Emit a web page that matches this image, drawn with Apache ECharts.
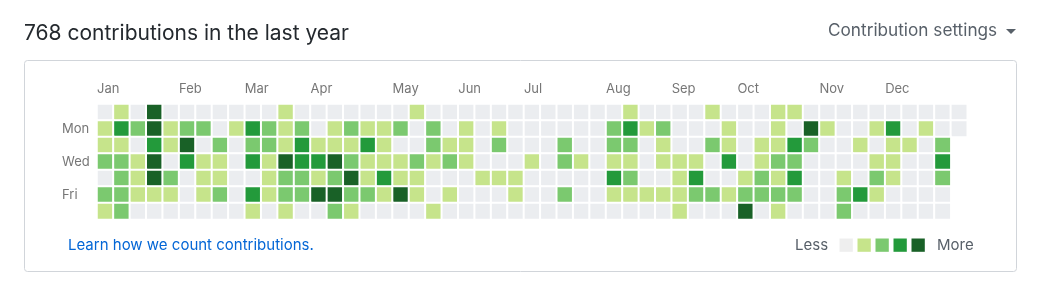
<!DOCTYPE html>
<html>
<head>
<meta charset="utf-8">
<script src="https://cdn.jsdelivr.net/npm/echarts@6/dist/echarts.min.js"></script>
<style>
html,body{margin:0;padding:0;background:#fff;}
#chart{width:1045px;height:298px;}
</style>
</head>
<body>
<div id="chart"></div>
<script>
// Contribution level (0-4) per week column, one array per weekday row
const sun = [0,1,0,4,0,0,0,0,0,0,0,1,0,0,0,0,0,0,0,1,0,0,0,0,0,0,0,0,0,0,0,0,1,0,0,0,0,1,0,0,0,1,1,0,0,0,0,0,0,0,0,0,0];
const mon = [1,3,2,4,1,2,2,0,1,3,2,1,2,0,1,2,1,1,2,0,2,0,1,0,1,0,0,0,0,0,0,2,3,1,2,0,0,0,1,0,0,1,0,4,1,0,0,1,3,0,1,0,0];
const tue = [1,1,0,3,1,4,0,2,0,2,2,1,3,1,1,1,3,1,0,0,2,1,1,0,2,0,0,0,2,0,0,2,2,0,1,0,0,2,1,0,1,1,3,2,0,0,1,0,1,1,0,2];
const wed = [2,2,1,4,0,3,1,1,0,3,1,4,3,3,4,2,1,1,1,2,1,2,1,0,0,0,1,0,2,1,0,1,1,0,1,1,1,0,3,0,1,2,2,0,0,0,0,1,1,0,0,3];
const thu = [0,2,1,4,2,0,1,1,0,0,1,2,2,1,2,4,1,3,1,1,0,0,0,1,1,1,0,0,0,0,0,3,2,0,0,1,3,0,0,1,2,1,3,0,0,1,0,2,1,0,0,2];
const fri = [2,2,1,1,1,0,1,2,0,3,1,2,2,4,4,2,2,1,4,1,0,1,0,0,0,1,0,0,2,0,0,1,1,1,1,1,2,2,1,2,2,2,2,0,0,2,3,1,0,0,0,0];
const sat = [1,2,0,0,0,0,0,0,0,1,0,1,0,0,2,1,0,0,0,0,1,0,0,0,0,0,0,0,0,0,0,0,0,0,0,1,0,0,0,4,0,1,0,0,0,2,0,0,0,0,0,0];

const weekdays = ['Sun','Mon','Tue','Wed','Thu','Fri','Sat'];
const dayLabels = ['Mon','Wed','Fri'];
const monthLabels = ['Jan','Feb','Mar','Apr','May','Jun','Jul','Aug','Sep','Oct','Nov','Dec'];
const monthStartWeek = [0,5,9,13,18,22,26,31,35,39,44,48];
const levelColors = ['#ebedf0','#c6e48b','#7bc96f','#239a3b','#196127'];
const legendText = ['Less', 'More'];
const weekCount = 53;

const rows = [sun, mon, tue, wed, thu, fri, sat];
const weeks = [];
for (let i = 0; i < weekCount; i++) weeks.push(String(i));
const data = [];
rows.forEach((row, d) => {
  row.forEach((v, w) => { data.push([w, d, v]); });
});

const FONT = 'Inter, "Liberation Sans", sans-serif';
const PITCH_X = 16.42, PITCH_Y = 16.5;

// legend (Less ■■■■■ More)
const legendGraphics = [
  {type: 'text', x: 795, y: 245, style: {text: legendText[0], fill: '#586069', fontSize: 15, fontFamily: FONT, verticalAlign: 'middle'}},
  {type: 'text', x: 937, y: 245, style: {text: legendText[1], fill: '#586069', fontSize: 15, fontFamily: FONT, verticalAlign: 'middle'}}
];
levelColors.forEach((c, i) => {
  legendGraphics.push({type: 'rect', shape: {x: 839.5 + i * 18, y: 238.5, width: 13.3, height: 13.3}, style: {fill: i === 0 ? '#eeeeee' : c}});
});

const chart = echarts.init(document.getElementById('chart'), null, {renderer: 'canvas', width: 1045, height: 298});
chart.setOption({
  animation: false,
  backgroundColor: '#fff',
  grid: {left: 97, top: 104, width: PITCH_X * weekCount, height: PITCH_Y * 7, containLabel: false},
  xAxis: [
    {type: 'category', data: weeks, show: false},
    {type: 'value', min: 0, max: weekCount, interval: 1, position: 'top',
     axisLine: {show: false}, axisTick: {show: false}, splitLine: {show: false},
     axisLabel: {show: true, align: 'left', margin: 8, color: '#767676', fontSize: 13, fontFamily: FONT,
       formatter: function (v) { const k = monthStartWeek.indexOf(Math.round(v)); return k >= 0 ? monthLabels[k] : ''; }}}
  ],
  yAxis: {type: 'category', data: weekdays, inverse: true,
    axisLine: {show: false}, axisTick: {show: false}, splitLine: {show: false},
    axisLabel: {interval: 0, align: 'left', margin: 35, color: '#767676', fontSize: 13, fontFamily: FONT,
      formatter: function (v) { return dayLabels.indexOf(v) >= 0 ? v : ''; }}},
  visualMap: {
    type: 'piecewise', dimension: 2, show: false,
    pieces: levelColors.map((c, i) => ({value: i, color: c}))
  },
  series: [{
    type: 'heatmap', xAxisIndex: 0, yAxisIndex: 0, data: data,
    itemStyle: {borderColor: '#fff', borderWidth: 2},
    emphasis: {disabled: true}
  }],
  graphic: [
    {type: 'rect', z: -1, shape: {x: 24.5, y: 60.5, width: 992, height: 211, r: 3},
     style: {fill: '#fff', stroke: '#d1d5da', lineWidth: 1}},
    {type: 'text', x: 24, y: 34, style: {text: '768 contributions in the last year', fill: '#24292e', fontSize: 21, fontFamily: FONT, verticalAlign: 'middle'}},
    {type: 'text', x: 828, y: 31, style: {text: 'Contribution settings', fill: '#586069', fontSize: 17.2, fontFamily: FONT, verticalAlign: 'middle'}},
    {type: 'polygon', shape: {points: [[1006, 29], [1016, 29], [1011, 34]]}, style: {fill: '#586069'}},
    {type: 'text', x: 68, y: 245, style: {text: 'Learn how we count contributions.', fill: '#0366d6', fontSize: 15, fontFamily: FONT, verticalAlign: 'middle'}}
  ].concat(legendGraphics)
});
</script>
</body>
</html>
